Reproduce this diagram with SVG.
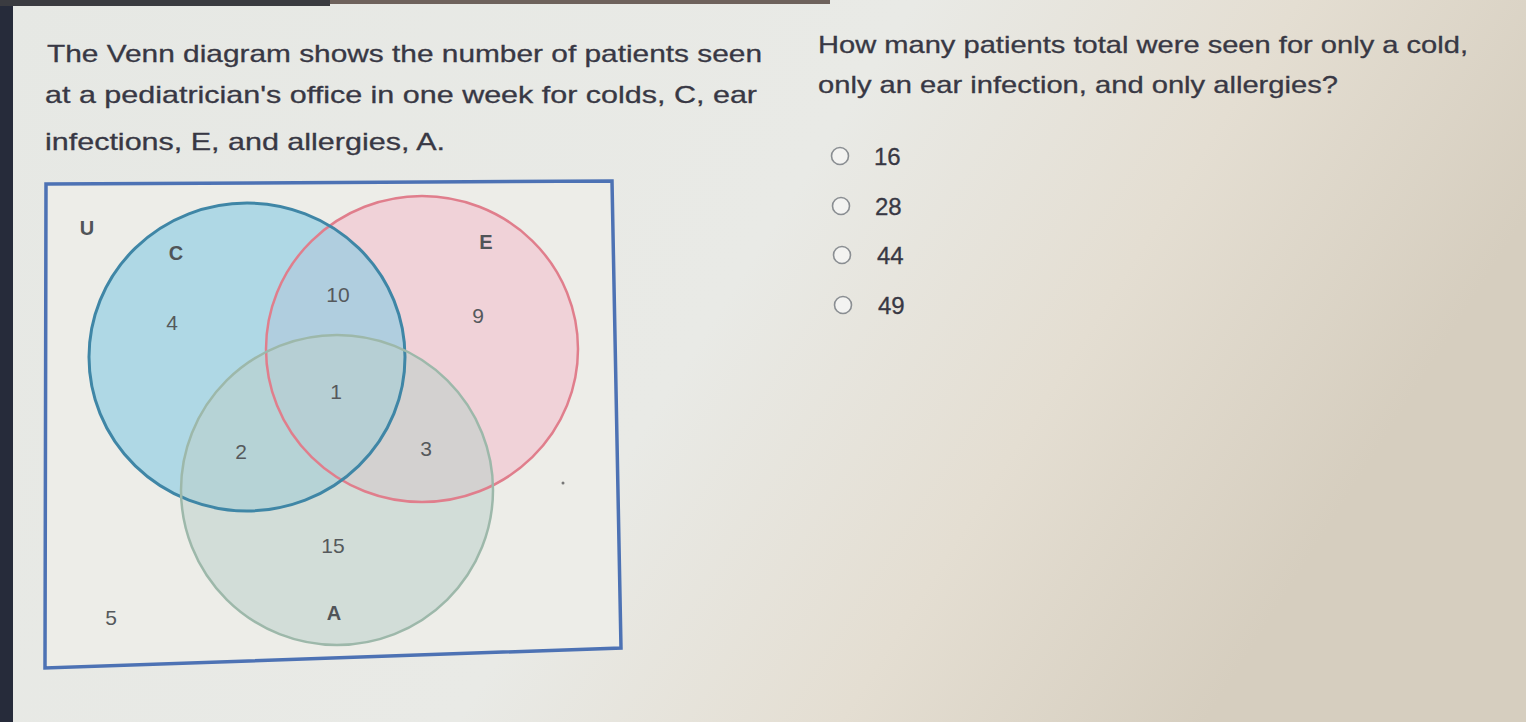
<svg xmlns="http://www.w3.org/2000/svg" width="1526" height="722" viewBox="0 0 1526 722">
<defs>
<linearGradient id="bg" x1="0" y1="0" x2="1" y2="0.3">
<stop offset="0" stop-color="#e6e8e4"/>
<stop offset="0.55" stop-color="#e9eae6"/>
<stop offset="0.78" stop-color="#e4ded2"/>
<stop offset="1" stop-color="#d6cebf"/>
</linearGradient>
<style>
.t{font-family:"Liberation Sans",Arial,sans-serif;font-size:24px;fill:#383844;stroke:#383844;stroke-width:0.3}
.n{font-family:"Liberation Sans",Arial,sans-serif;font-size:21px;fill:#55595c;text-anchor:middle}
.l{font-family:"Liberation Sans",Arial,sans-serif;font-size:20px;font-weight:bold;fill:#505458;text-anchor:middle}
.r{fill:#f3f3f1;stroke:#8a8e92;stroke-width:1.6}
</style>
</defs>
<rect width="1526" height="722" fill="url(#bg)"/>
<rect x="0" y="0" width="13" height="722" fill="#262b3a"/>
<rect x="0" y="0" width="330" height="6" fill="#3a3b40"/>
<rect x="330" y="0" width="500" height="4" fill="#6e625c"/>

<g id="question-left">
<text class="t" x="47" y="62" textLength="715" lengthAdjust="spacingAndGlyphs">The Venn diagram shows the number of patients seen</text>
<text class="t" x="45" y="103" textLength="712" lengthAdjust="spacingAndGlyphs">at a pediatrician's office in one week for colds, C, ear</text>
<text class="t" x="45" y="150" textLength="400" lengthAdjust="spacingAndGlyphs">infections, E, and allergies, A.</text>
</g>

<g id="question-right">
<text class="t" x="818" y="53" textLength="650" lengthAdjust="spacingAndGlyphs">How many patients total were seen for only a cold,</text>
<text class="t" x="818" y="93" textLength="520" lengthAdjust="spacingAndGlyphs">only an ear infection, and only allergies?</text>
</g>

<g id="options">
<g id="opt-16"><circle class="r" cx="840" cy="156" r="8.5"/><text class="t" x="874" y="165">16</text></g>
<g id="opt-28"><circle class="r" cx="841" cy="206" r="8.5"/><text class="t" x="875" y="215">28</text></g>
<g id="opt-44"><circle class="r" cx="842" cy="255" r="8.5"/><text class="t" x="877" y="264">44</text></g>
<g id="opt-49"><circle class="r" cx="843" cy="305" r="8.5"/><text class="t" x="878" y="314">49</text></g>
</g>

<g id="universe">
<polygon points="46,184 612,181 621,648 45,668" fill="#edede8" stroke="#4d72b4" stroke-width="3.5"/>
</g>

<g id="set-E">
<ellipse cx="422" cy="349" rx="156" ry="153" fill="#f0c8d3" fill-opacity="0.75"/>
</g>
<g id="set-C">
<ellipse cx="247" cy="357" rx="158" ry="154" fill="#8ecde3" fill-opacity="0.65"/>
</g>
<g id="set-A">
<ellipse cx="337" cy="490" rx="156" ry="155" fill="#bccfca" fill-opacity="0.55"/>
</g>
<g id="outlines" fill="none" stroke-width="3">
<ellipse cx="422" cy="349" rx="156" ry="153" stroke="#e07e8c" stroke-width="2.5"/>
<ellipse cx="247" cy="357" rx="158" ry="154" stroke="#3f86a6"/>
<ellipse cx="337" cy="490" rx="156" ry="155" stroke="#9db8aa" stroke-width="2.5"/>
</g>
<circle cx="563" cy="483" r="1.5" fill="#777"/>

<g id="labels">
<text class="l" x="87" y="235">U</text>
<text class="l" x="176" y="260">C</text>
<text class="l" x="486" y="249">E</text>
<text class="l" x="334" y="620">A</text>
<text class="n" x="338" y="302">10</text>
<text class="n" x="172" y="330">4</text>
<text class="n" x="478" y="323">9</text>
<text class="n" x="336" y="399">1</text>
<text class="n" x="241" y="459">2</text>
<text class="n" x="426" y="456">3</text>
<text class="n" x="333" y="553">15</text>
<text class="n" x="111" y="625">5</text>
</g>
</svg>
